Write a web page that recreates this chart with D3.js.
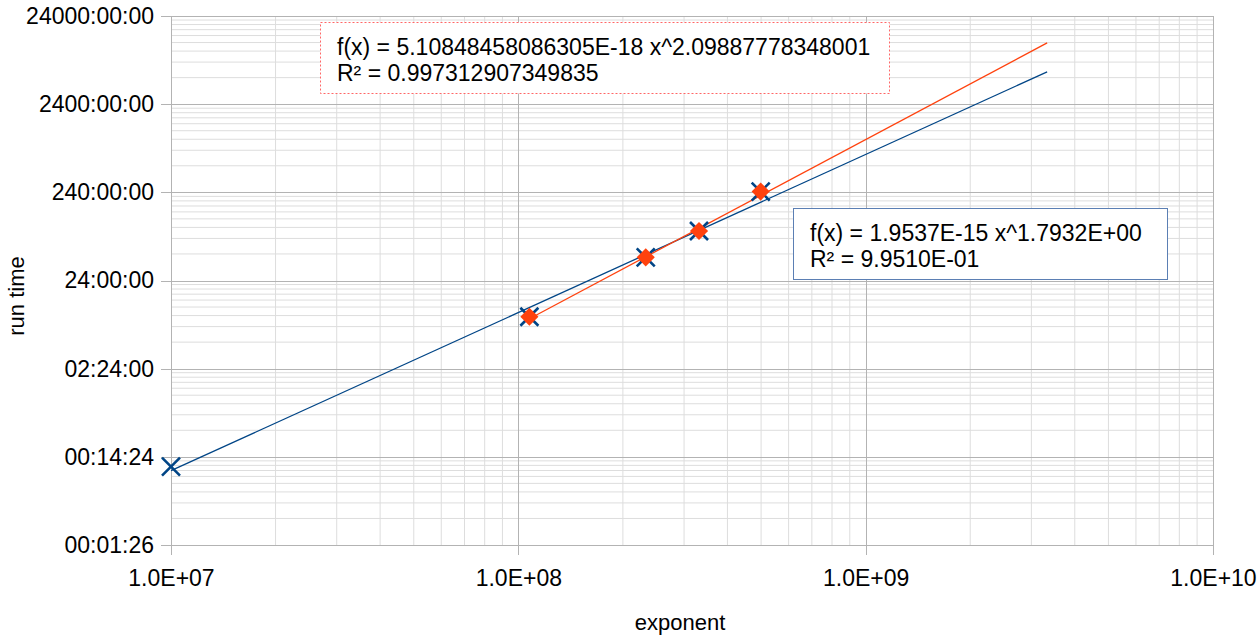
<!DOCTYPE html>
<html lang="en">
<head>
<meta charset="UTF-8">
<title>run time vs exponent</title>
<script src="https://d3js.org/d3.v7.min.js"></script>
<style>
  body { margin: 0; background: #fff; }
  svg text { font-family: "Liberation Sans", Arial, sans-serif; fill: #000; }
</style>
</head>
<body>
<div id="chart"></div>
<script>
// data: exponent vs run time (days)
const exponents = [1.0e7, 1.076e8, 2.327e8, 3.313e8, 4.986e8]
const runTimeBlue = [0.00773, 0.388, 1.832, 3.64, 10.2]
const exponentsOrange = [1.076e8, 2.327e8, 3.313e8, 4.986e8]
const runTimeOrange = [0.388, 1.832, 3.64, 10.2]

// trend lines (power fit shown in the chart)
const blueFit = { a: 1.9537e-15, b: 1.7932 }
const orangeFit = { a: 5.10848458086305e-18, b: 2.09887778348001 }
const trendEnd = 3.33e9

const xTicks = [1e7, 1e8, 1e9, 1e10]
const xTickLabels = ["1.0E+07", "1.0E+08", "1.0E+09", "1.0E+10"]
const yTicks = [0.001, 0.01, 0.1, 1, 10, 100, 1000]

const blueEq = ["f(x) = 1.9537E-15 x^1.7932E+00", "R² = 9.9510E-01"]
const orangeEq = ["f(x) = 5.10848458086305E-18 x^2.09887778348001", "R² = 0.997312907349835"]

const W = 1259, H = 636
const margin = { top: 16, right: 46, bottom: 91, left: 171 }
const width = W - margin.left - margin.right,
      height = H - margin.top - margin.bottom

const svg = d3.select("#chart").append("svg")
  .attr("width", W).attr("height", H)

const g = svg.append("g").attr("transform", `translate(${margin.left},${margin.top})`)

const x = d3.scaleLog().domain([1e7, 1e10]).range([0, width])
const y = d3.scaleLog().domain([0.001, 1000]).range([height, 0])

// format days as hh:mm:ss
function fmtTime(days) {
  const s = Math.round(days * 86400)
  const h = Math.floor(s / 3600), m = Math.floor((s % 3600) / 60), sec = s % 60
  const p = n => String(n).padStart(2, "0")
  return `${p(h)}:${p(m)}:${p(sec)}`
}

// minor gridlines
const minorX = [], minorY = []
xTicks.slice(0, -1).forEach(t => { for (let k = 2; k < 10; k++) minorX.push(t * k) })
yTicks.slice(0, -1).forEach(t => { for (let k = 2; k < 10; k++) minorY.push(t * k) })

g.append("g").selectAll("line").data(minorX).join("line")
  .attr("x1", d => x(d)).attr("x2", d => x(d)).attr("y1", 0).attr("y2", height)
  .attr("stroke", "#dddddd").attr("stroke-width", 1)
g.append("g").selectAll("line").data(minorY).join("line")
  .attr("y1", d => y(d)).attr("y2", d => y(d)).attr("x1", 0).attr("x2", width)
  .attr("stroke", "#dddddd").attr("stroke-width", 1)

// axes with major gridlines
const xAxis = d3.axisBottom(x).tickValues(xTicks)
  .tickFormat((d, i) => xTickLabels[i]).tickSizeInner(-height - 10).tickSizeOuter(0).tickPadding(24)
const gx = g.append("g").attr("transform", `translate(0,${height})`).call(xAxis)
gx.selectAll(".tick line").attr("y1", 10).attr("y2", -height)

const yAxis = d3.axisLeft(y).tickValues(yTicks).tickFormat(fmtTime)
  .tickSizeInner(-width).tickSizeOuter(0).tickPadding(17)
const gy = g.append("g").call(yAxis)
gy.selectAll(".tick line").attr("x1", -10).attr("x2", width)

;[gx, gy].forEach(a => {
  a.select(".domain").attr("stroke", "#b3b3b3")
  a.selectAll(".tick line").attr("stroke", "#b3b3b3").attr("shape-rendering", "crispEdges")
  a.selectAll(".tick text").attr("font-size", 23).attr("font-family", "Liberation Sans, Arial, sans-serif").attr("fill", "#000")
})
gx.selectAll(".tick text").attr("dy", "0.32em").attr("y", 34)

// trend lines
function trend(fit, x0, x1) {
  return [x0, x1].map(v => [v, fit.a * Math.pow(v, fit.b)])
}
const line = d3.line().x(d => x(d[0])).y(d => y(d[1]))
g.append("path").datum(trend(blueFit, exponents[0], trendEnd))
  .attr("d", line).attr("fill", "none").attr("stroke", "#004586").attr("stroke-width", 1.3)
g.append("path").datum(trend(orangeFit, exponentsOrange[0], trendEnd))
  .attr("d", line).attr("fill", "none").attr("stroke", "#ff420e").attr("stroke-width", 1.3)

// blue X markers
const r = 9
const bx = g.append("g").selectAll("g").data(exponents.map((v, i) => [v, runTimeBlue[i]])).join("g")
  .attr("transform", d => `translate(${x(d[0])},${y(d[1])})`)
bx.append("path").attr("d", `M${-r},${-r}L${r},${r}M${-r},${r}L${r},${-r}`)
  .attr("stroke", "#004586").attr("stroke-width", 2.6).attr("fill", "none")

// orange diamond markers
g.append("g").selectAll("path").data(exponentsOrange.map((v, i) => [v, runTimeOrange[i]])).join("path")
  .attr("d", d3.symbol(d3.symbolSquare, 165))
  .attr("transform", d => `translate(${x(d[0])},${y(d[1])}) rotate(45)`)
  .attr("fill", "#ff420e")

// equation boxes
function eqBox(x0, y0, w, h, lines, stroke, dash) {
  const b = svg.append("g").attr("transform", `translate(${x0},${y0})`)
  b.append("rect").attr("x", 0.5).attr("y", 0.5).attr("width", w).attr("height", h)
    .attr("fill", "#fff").attr("stroke", stroke).attr("stroke-width", 1)
    .attr("stroke-dasharray", dash)
  b.selectAll("text").data(lines).join("text")
    .attr("x", 17).attr("y", (d, i) => 33 + i * 26)
    .attr("font-size", 23).text(d => d)
}
eqBox(320, 22, 569, 71, orangeEq, "#ff6666", "2,2")
eqBox(793, 208, 374, 71, blueEq, "#5b7fb4", null)

// axis titles
svg.append("text").attr("x", 680).attr("y", 630).attr("text-anchor", "middle")
  .attr("font-size", 22).text("exponent")
svg.append("text").attr("transform", "translate(24,296) rotate(-90)").attr("text-anchor", "middle")
  .attr("font-size", 22).text("run time")
</script>
</body>
</html>
